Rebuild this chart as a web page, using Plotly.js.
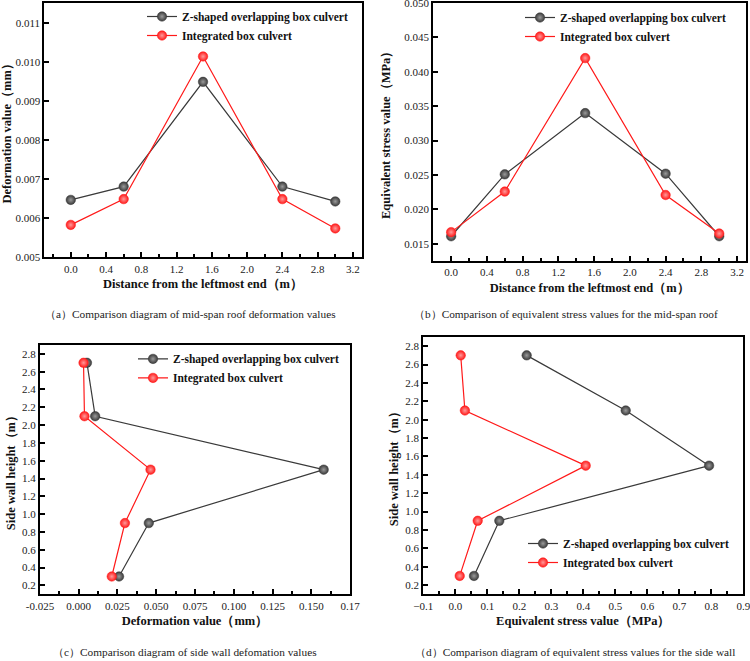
<!DOCTYPE html>
<html>
<head>
<meta charset="utf-8">
<script src="https://cdn.plot.ly/plotly-3.0.1.min.js"></script>
<style>html,body{margin:0;padding:0;background:#fff;}#chart{width:750px;height:661px;}</style>
</head>
<body>
<div id="chart"></div>
<script>
// ---- data ----
const seriesNames = ['Z-shaped overlapping box culvert', 'Integrated box culvert'];
const roofDistance = [0, 0.6, 1.5, 2.4, 3.0];
const roofDeformZ = [0.00647, 0.00681, 0.00949, 0.00681, 0.00643];
const roofDeformInt = [0.00583, 0.00649, 0.01014, 0.00649, 0.00574];
const roofStressZ = [0.0161, 0.0251, 0.0340, 0.0252, 0.0161];
const roofStressInt = [0.0167, 0.0226, 0.0420, 0.0221, 0.0165];
const wallHeight = [0.3, 0.9, 1.5, 2.1, 2.7];
const wallDeformZ = [0.0260, 0.0452, 0.1580, 0.0106, 0.0053];
const wallDeformInt = [0.0213, 0.0298, 0.0463, 0.0037, 0.0031];
const wallStressZ = [0.0584, 0.1375, 0.7930, 0.5325, 0.2230];
const wallStressInt = [0.0138, 0.0700, 0.4075, 0.0300, 0.0169];
const wallDeformTickVals = [-0.025, 0, 0.025, 0.05, 0.075, 0.1, 0.125, 0.15, 0.175];
const wallDeformTickText = ['-0.025', '0.000', '0.025', '0.050', '0.075', '0.100', '0.125', '0.150', '0.17'];
const captions = [
  '（a）Comparison diagram of mid-span roof deformation values',
  '（b）Comparison of equivalent stress values for the mid-span roof',
  '（c）Comparison diagram of side wall defomation values',
  '（d）Comparison diagram of equivalent stress values for the side wall'
];

// ---- styling ----
const SERIF = 'Liberation Serif';
const colZ = '#3a3a3a', colI = '#ff1a1a';
function mk(x, y, name, col, grad, xa, ya, leg) {
  return {
    x: x, y: y, name: name, type: 'scatter', mode: 'lines+markers',
    xaxis: xa, yaxis: ya, legend: leg,
    line: {color: col, width: 1.2},
    marker: {symbol: 'circle', size: 9.5, color: col, gradient: {type: 'radial', color: grad},
             line: {color: col, width: 0.5}}
  };
}
const traces = [
  mk(roofDistance, roofDeformZ, seriesNames[0], colZ, '#9a9a9a', 'x', 'y', 'legend'),
  mk(roofDistance, roofDeformInt, seriesNames[1], colI, '#ff9a9a', 'x', 'y', 'legend'),
  mk(roofDistance, roofStressZ, seriesNames[0], colZ, '#9a9a9a', 'x2', 'y2', 'legend2'),
  mk(roofDistance, roofStressInt, seriesNames[1], colI, '#ff9a9a', 'x2', 'y2', 'legend2'),
  mk(wallDeformZ, wallHeight, seriesNames[0], colZ, '#9a9a9a', 'x3', 'y3', 'legend3'),
  mk(wallDeformInt, wallHeight, seriesNames[1], colI, '#ff9a9a', 'x3', 'y3', 'legend3'),
  mk(wallStressZ, wallHeight, seriesNames[0], colZ, '#9a9a9a', 'x4', 'y4', 'legend4'),
  mk(wallStressInt, wallHeight, seriesNames[1], colI, '#ff9a9a', 'x4', 'y4', 'legend4')
];

function ax(domain, range, anchor, extra) {
  return Object.assign({
    domain: domain, range: range, anchor: anchor,
    showgrid: false, zeroline: false,
    showline: true, mirror: true, linecolor: '#000', linewidth: 2,
    ticks: 'inside', ticklen: 5, tickwidth: 2, tickcolor: '#000',
    tickfont: {family: SERIF, size: 11, color: '#222'},
    ticklabeloverflow: 'allow', automargin: false,
    fixedrange: true
  }, extra);
}
function ttl(text, standoff) {
  return {text: text, standoff: standoff, font: {family: SERIF, size: 12.5, color: '#111', weight: 'bold'}};
}
const minorX = (d) => ({ticks: 'inside', ticklen: 3, tickwidth: 2, tickcolor: '#000', dtick: d});

const legFont = {family: SERIF, size: 11.5, color: '#111', weight: 'bold'};
function leg(x, y) {
  return {x: x, y: y, xanchor: 'left', yanchor: 'top', bgcolor: 'rgba(0,0,0,0)',
          borderwidth: 0, font: legFont, itemwidth: 30, tracegroupgap: 0};
}

const layout = {
  width: 750, height: 661, margin: {l: 0, r: 0, t: 0, b: 0, autoexpand: false},
  paper_bgcolor: '#fff', plot_bgcolor: '#fff',
  showlegend: true,
  xaxis: ax([0.0591, 0.4823], [-0.3, 3.3], 'y', {dtick: 0.4, tick0: 0, tickformat: '.1f', minor: minorX(0.2),
          title: ttl('Distance from the leftmost end（m）', 6)}),
  yaxis: ax([0.6107, 0.995], [0.005, 0.0115], 'x', {dtick: 0.001, tick0: 0.005, tickformat: '.3f',
          title: ttl('Deformation value（mm）', 4)}),
  xaxis2: ax([0.5777, 0.9947], [-0.2, 3.3], 'y2', {dtick: 0.4, tick0: 0, tickformat: '.1f', minor: minorX(0.2),
          title: ttl('Distance from the leftmost end（m）', 6)}),
  yaxis2: ax([0.6051, 0.9959], [0.0125, 0.05005], 'x2', {dtick: 0.005, tick0: 0.015, tickformat: '.3f',
          title: ttl('Equivalent stress value（MPa）', 11)}),
  xaxis3: ax([0.0533, 0.4667], [-0.025, 0.175], 'y3', {tickmode: 'array', tickvals: wallDeformTickVals,
          ticktext: wallDeformTickText, minor: minorX(0.0125),
          title: ttl('Deformation value（mm）', 6)}),
  yaxis3: ax([0.1009, 0.4781], [0.1, 2.9], 'x3', {dtick: 0.2, tick0: 0.2, tickformat: '.1f',
          title: ttl('Side wall height（m）', 4)}),
  xaxis4: ax([0.5644, 0.9911], [-0.1, 0.9], 'y4', {dtick: 0.1, tick0: 0, tickformat: '.1f', minor: minorX(0.05),
          title: ttl('Equivalent stress value（MPa）', 6)}),
  yaxis4: ax([0.1009, 0.4902], [0.1, 2.9], 'x4', {dtick: 0.2, tick0: 0.2, tickformat: '.1f',
          title: ttl('Side wall height（m）', 4)}),
  legend: leg(142 / 750, 1 - 2 / 661),
  legend2: leg(520 / 750, 1 - 3 / 661),
  legend3: leg(133 / 750, 1 - 344.4 / 661),
  legend4: leg(523 / 750, 1 - 529 / 661),
  annotations: [
    {text: captions[0], x: 190 / 750, y: 1 - 314 / 661},
    {text: captions[1], x: 566 / 750, y: 1 - 314 / 661},
    {text: captions[2], x: 185 / 750, y: 1 - 652 / 661},
    {text: captions[3], x: 575 / 750, y: 1 - 652 / 661}
  ].map(a => Object.assign({xref: 'paper', yref: 'paper', showarrow: false, xanchor: 'center', yanchor: 'middle',
          font: {family: SERIF, size: 11.3, color: '#222'}}, a))
};

Plotly.newPlot('chart', traces, layout, {displayModeBar: false, staticPlot: true});
</script>
</body>
</html>
